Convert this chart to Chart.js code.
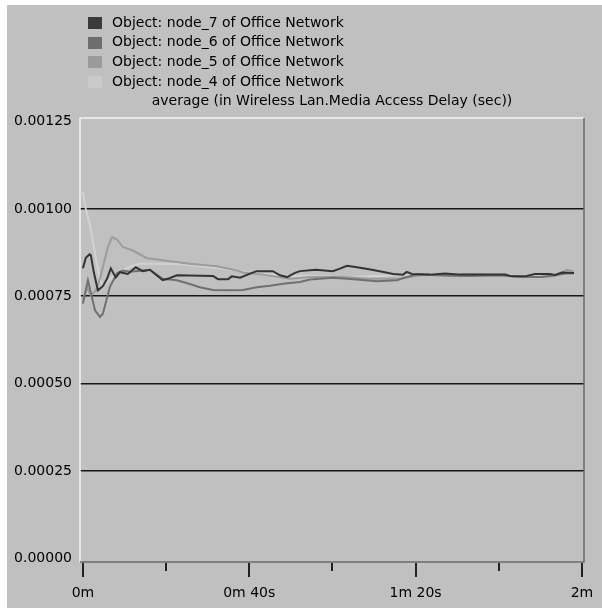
<!DOCTYPE html>
<html>
<head>
<meta charset="utf-8">
<script src="https://cdn.jsdelivr.net/npm/chart.js@4.4.1/dist/chart.umd.min.js"></script>
<style>
  html, body { margin: 0; padding: 0; background: #ffffff; }
  #wrap { width: 602px; height: 608px; position: relative; }
  canvas { display: block; }
</style>
</head>
<body>
<div id="wrap"><canvas id="c" width="602" height="608"></canvas></div>
<script>
// Media access delay (seconds) per node, sampled over the simulation time (seconds)
const seriesLabels = [
  'Object: node_7 of Office Network',
  'Object: node_6 of Office Network',
  'Object: node_5 of Office Network',
  'Object: node_4 of Office Network'
];
const chartTitle = 'average (in Wireless Lan.Media Access Delay (sec))';

const node7Time  = [0, 0.7, 1.6, 1.9, 2.6, 3.6, 4.8, 5.8, 6.7, 7.9, 8.9, 10.8, 12.7, 14.4, 16.1, 19.2, 20.4, 22.6, 31.3, 32.5, 34.9, 35.8, 37.8, 40.2, 41.8, 45.7, 47.4, 49.1, 51.0, 52.2, 56.0, 60.1, 61.8, 63.5, 65.9, 69.5, 72.6, 74.6, 77.0, 77.9, 79.1, 83.5, 87.1, 90.7, 101.5, 103.2, 106.3, 108.7, 112.3, 113.5, 115.2, 118.1];
const node7Delay = [0.000830, 0.000860, 0.000870, 0.000868, 0.000820, 0.000767, 0.000779, 0.000800, 0.000830, 0.000804, 0.000819, 0.000814, 0.000833, 0.000822, 0.000826, 0.000796, 0.000800, 0.000810, 0.000808, 0.000799, 0.000799, 0.000807, 0.000803, 0.000815, 0.000822, 0.000822, 0.000810, 0.000805, 0.000817, 0.000822, 0.000826, 0.000822, 0.000829, 0.000837, 0.000833, 0.000826, 0.000819, 0.000814, 0.000812, 0.000820, 0.000814, 0.000812, 0.000815, 0.000812, 0.000812, 0.000807, 0.000807, 0.000814, 0.000814, 0.000811, 0.000818, 0.000817];

const node6Time  = [0, 1.2, 1.9, 2.9, 4.1, 4.8, 6.5, 8.2, 9.6, 11.3, 13.7, 16.1, 19.2, 22.6, 25.7, 28.1, 31.3, 35.4, 38.5, 41.8, 45.0, 48.1, 52.2, 54.6, 60.1, 65.9, 70.7, 75.5, 77.9, 80.3, 88.3, 93.0, 100.3, 105.0, 110.0, 113.5, 116.0, 118.0];
const node6Delay = [0.000729, 0.000796, 0.000760, 0.000710, 0.000691, 0.000700, 0.000777, 0.000816, 0.000824, 0.000820, 0.000823, 0.000826, 0.000800, 0.000796, 0.000785, 0.000776, 0.000768, 0.000767, 0.000768, 0.000776, 0.000780, 0.000786, 0.000791, 0.000798, 0.000803, 0.000798, 0.000793, 0.000796, 0.000805, 0.000812, 0.000809, 0.000808, 0.000810, 0.000806, 0.000805, 0.000810, 0.000815, 0.000816];

const node5Time  = [0, 1.0, 1.9, 3.1, 4.1, 4.8, 6.0, 7.0, 8.2, 9.6, 12.0, 15.4, 16.1, 20.9, 25.7, 32.2, 37.0, 38.5, 43.3, 49.8, 54.6, 61.8, 69.0, 76.2, 81.0, 88.3, 95.5, 102.7, 110.0, 113.5, 116.4, 118.0];
const node5Delay = [0.000742, 0.000775, 0.000752, 0.000767, 0.000800, 0.000834, 0.000891, 0.000919, 0.000912, 0.000891, 0.000881, 0.000859, 0.000858, 0.000850, 0.000843, 0.000836, 0.000824, 0.000818, 0.000812, 0.000800, 0.000805, 0.000806, 0.000800, 0.000800, 0.000810, 0.000812, 0.000812, 0.000808, 0.000805, 0.000808, 0.000826, 0.000822];

const node4Time  = [0, 0.7, 1.6, 2.8, 4.0, 4.8, 6.5, 8.9, 11.3, 13.7, 16.1, 22.1, 26.9, 31.7, 37.8, 42.6, 49.8, 57.0, 64.2, 71.4, 78.6, 88.3, 100.3, 110.0, 118.0];
const node4Delay = [0.001048, 0.001000, 0.000959, 0.000881, 0.000800, 0.000780, 0.000800, 0.000820, 0.000835, 0.000843, 0.000843, 0.000843, 0.000838, 0.000832, 0.000822, 0.000815, 0.000808, 0.000808, 0.000805, 0.000808, 0.000812, 0.000812, 0.000810, 0.000808, 0.000818];

const yTickValues = [0, 0.00025, 0.0005, 0.00075, 0.001, 0.00125];
const xTickValues = [0, 20, 40, 60, 80, 100, 120];
const xLabelValues = [0, 40, 80, 120];
const xLabelTexts = ['0m', '0m 40s', '1m 20s', '2m'];

const seriesColors = ['#333333', '#707070', '#9c9c9c', '#d2d2d2'];
const legendBoxColors = ['#3a3a3a', '#6e6e6e', '#9a9a9a', '#cacaca'];
const FONT = 'DejaVu Sans';
const BG = '#c0c0c0';

function toPoints(ts, vs) { return ts.map((t, i) => ({ x: t, y: vs[i] })); }

const seriesData = [
  toPoints(node7Time, node7Delay),
  toPoints(node6Time, node6Delay),
  toPoints(node5Time, node5Delay),
  toPoints(node4Time, node4Delay)
];

const frame = {
  id: 'frame',
  beforeDraw(chart) {
    const ctx = chart.ctx;
    ctx.save();
    ctx.fillStyle = '#ffffff';
    ctx.fillRect(0, 0, chart.width, chart.height);
    ctx.fillStyle = BG;
    ctx.fillRect(7, 5, chart.width - 7, chart.height - 5);
    ctx.restore();
  },
  afterDraw(chart) {
    const ctx = chart.ctx;
    const a = chart.chartArea;
    const xs = chart.scales.x;
    ctx.save();
    // plot frame: light top/left, dark right/bottom
    ctx.lineWidth = 1.5;
    ctx.strokeStyle = '#f4f4f4';
    ctx.beginPath();
    ctx.moveTo(a.left, a.bottom);
    ctx.lineTo(a.left, a.top);
    ctx.lineTo(a.right, a.top);
    ctx.stroke();
    ctx.strokeStyle = '#6a6a6a';
    ctx.beginPath();
    ctx.moveTo(a.right, a.top);
    ctx.lineTo(a.right, a.bottom);
    ctx.lineTo(a.left, a.bottom);
    ctx.stroke();
    // x tick marks: long for labelled ticks, short otherwise
    ctx.strokeStyle = '#222222';
    ctx.lineWidth = 2;
    xTickValues.forEach(v => {
      const px = Math.round(xs.getPixelForValue(v));
      const len = xLabelValues.includes(v) ? 14 : 8;
      ctx.beginPath();
      ctx.moveTo(px, a.bottom + 1);
      ctx.lineTo(px, a.bottom + 1 + len);
      ctx.stroke();
    });
    // legend
    ctx.font = '14px "' + FONT + '"';
    ctx.textBaseline = 'middle';
    ctx.textAlign = 'left';
    chart.data.datasets.forEach((ds, i) => {
      const cy = 23 + i * 19.7;
      ctx.fillStyle = legendBoxColors[i];
      ctx.fillRect(88, Math.round(cy - 6), 14, 12);
      ctx.fillStyle = '#000000';
      ctx.fillText(ds.label, 112, cy);
    });
    ctx.textAlign = 'center';
    ctx.fillText(chartTitle, (a.left + a.right) / 2, 101);
    ctx.restore();
  }
};

new Chart(document.getElementById('c'), {
  type: 'line',
  data: {
    datasets: seriesLabels.map((label, i) => ({
      label,
      data: seriesData[i],
      borderColor: seriesColors[i],
      backgroundColor: seriesColors[i],
      borderWidth: 2,
      pointRadius: 0,
      tension: 0,
      fill: false
    }))
  },
  options: {
    responsive: false,
    animation: false,
    devicePixelRatio: 1,
    events: [],
    layout: { padding: { top: 118, right: 18, left: 0, bottom: 0 } },
    plugins: { legend: { display: false }, title: { display: false }, tooltip: { enabled: false } },
    scales: {
      x: {
        type: 'linear',
        min: -0.7,
        max: 120.5,
        afterBuildTicks: s => { s.ticks = xTickValues.map(v => ({ value: v })); },
        afterFit: s => { s.height = 46; s.paddingLeft = 0; s.paddingRight = 0; },
        grid: { display: false },
        border: { display: false },
        ticks: {
          autoSkip: false,
          maxRotation: 0,
          padding: 15,
          color: '#000000',
          font: { family: FONT, size: 14 },
          callback: v => {
            const k = xLabelValues.indexOf(v);
            return k >= 0 ? xLabelTexts[k] : '';
          }
        }
      },
      y: {
        min: -0.00001,
        max: 0.00126,
        afterBuildTicks: s => { s.ticks = yTickValues.map(v => ({ value: v })); },
        afterFit: s => { s.width = 80; s.paddingTop = 0; s.paddingBottom = 0; },
        border: { display: false },
        grid: {
          drawTicks: false,
          lineWidth: 1.6,
          color: c => (c.tick && c.tick.value > 0 && c.tick.value < 0.0012) ? '#161616' : 'rgba(0,0,0,0)'
        },
        ticks: {
          padding: 8,
          color: '#000000',
          font: { family: FONT, size: 14 },
          callback: v => Number(v).toFixed(5)
        }
      }
    }
  },
  plugins: [frame]
});
</script>
</body>
</html>
